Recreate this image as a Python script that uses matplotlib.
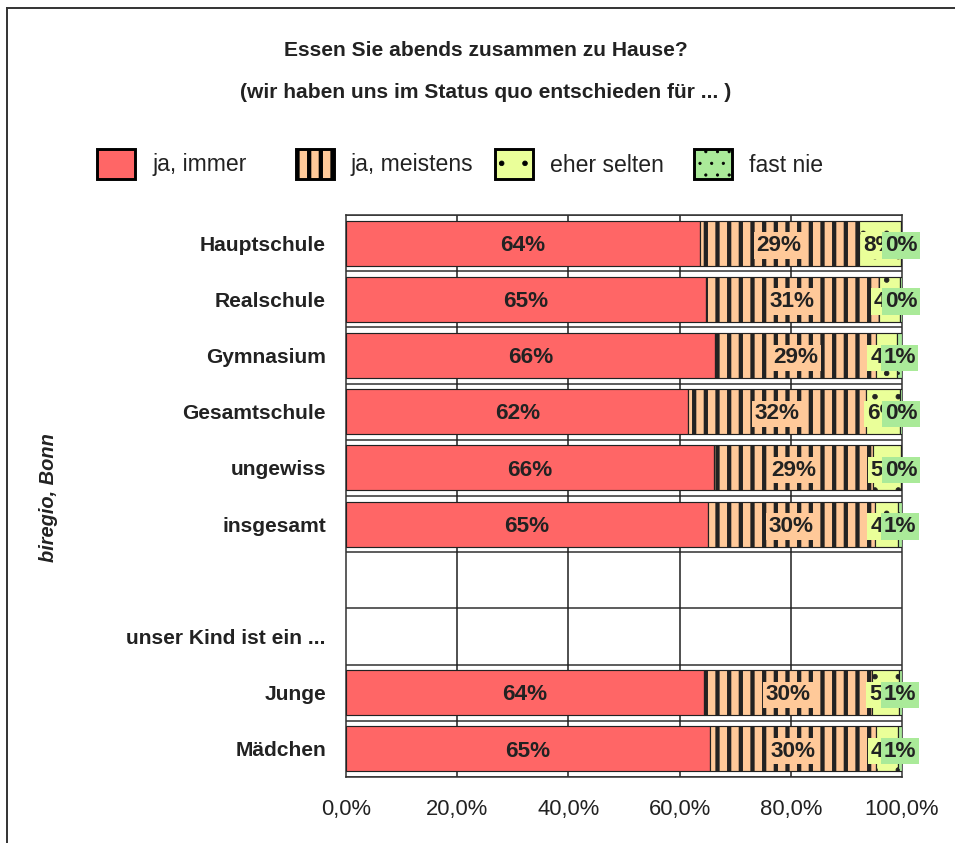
import numpy as np
import matplotlib
matplotlib.use("Agg")
import matplotlib.pyplot as plt
from matplotlib.patches import Rectangle
from matplotlib.lines import Line2D

# ---------------- data ----------------
categories = ["Hauptschule", "Realschule", "Gymnasium", "Gesamtschule", "ungewiss",
              "insgesamt", "", "unser Kind ist ein ...", "Junge", "Mädchen"]
series_names = ["ja, immer", "ja, meistens", "eher selten", "fast nie"]
ja_immer    = [63.6, 64.7, 66.4, 61.6, 66.2, 65.1, None, None, 64.4, 65.4]
ja_meistens = [28.6, 31.2, 28.9, 32.0, 28.6, 30.0, None, None, 30.2, 29.9]
eher_selten = [7.6, 3.7, 3.8, 6.0, 5.0, 4.2, None, None, 4.8, 4.0]
fast_nie    = [0.2, 0.4, 0.9, 0.4, 0.2, 0.7, None, None, 0.6, 0.7]
x_ticks = [0, 20, 40, 60, 80, 100]
x_ticklabels = ["0,0%", "20,0%", "40,0%", "60,0%", "80,0%", "100,0%"]
title1 = "Essen Sie abends zusammen zu Hause?"
title2 = "(wir haben uns im Status quo entschieden für ... )"
side_label = "biregio, Bonn"

# ---------------- style ----------------
colors = ["#FF6666", "#FFC999", "#EAFF99", "#AAEA99"]
hatches = [None, "||", ".", ".."]
hatch_lw = [1.0, 2.2, 0.4, 0.4]
DPI = 140
W, H = 955, 843
PT = 72.0 / DPI  # px -> pt
plt.rcParams["font.family"] = ["Liberation Sans", "DejaVu Sans"]
plt.rcParams["hatch.color"] = "black"
TXT = "#222222"

fig = plt.figure(figsize=(W / DPI, H / DPI), dpi=DPI)
fx = lambda px: px / W
fy = lambda py: 1 - py / H


def set_hlw(patch, lw):
    if hasattr(patch, "set_hatch_linewidth"):
        patch.set_hatch_linewidth(lw)


ax = fig.add_axes([fx(346), fy(777), fx(902) - fx(346), fy(215) - fy(777)])

series = [ja_immer, ja_meistens, eher_selten, fast_nie]
n = len(categories)
ypos = np.arange(n)
valid = [i for i in range(n) if ja_immer[i] is not None]

left = np.zeros(n)
bars_all = []
for s, vals in enumerate(series):
    w = np.array([vals[i] for i in valid], dtype=float)
    y = ypos[valid]
    l = left[valid]
    with plt.rc_context({"hatch.linewidth": hatch_lw[s]}):
        bc = ax.barh(y, w, left=l, height=0.8, color=colors[s], hatch=hatches[s],
                     edgecolor="#222222", linewidth=0.6, zorder=3)
    for p in bc:
        set_hlw(p, hatch_lw[s])
    bars_all.append((y, l, w))
    left[valid] = l + w

# labels
for s, (y, l, w) in enumerate(bars_all):
    for yi, li, wi in zip(y, l, w):
        ax.text(li + wi / 2, yi + 0.04, f"{wi:.0f}%", ha="center", va="center",
                fontsize=22.5 * PT, fontweight="bold", color=TXT, zorder=5 + s,
                clip_on=False,
                bbox=dict(boxstyle="square,pad=0.12", fc=colors[s], ec="none"))

ax.set_xlim(0, 100)
ax.set_ylim(n - 0.5, -0.5)
# gridlines
for b in np.arange(-0.5, n, 1.0):
    ax.axhline(b, color="#333333", lw=0.8, zorder=1)
for xv in x_ticks[1:-1]:
    ax.axvline(xv, color="#222222", lw=0.8, zorder=1)
for sp in ax.spines.values():
    sp.set_color("#333333")
    sp.set_linewidth(0.8)

ax.set_xticks(x_ticks)
ax.set_xticklabels(x_ticklabels, fontsize=22 * PT, color=TXT)
ax.set_yticks(ypos)
ax.set_yticklabels(categories, fontsize=21 * PT, fontweight="bold", color=TXT)
ax.tick_params(axis="both", length=0)
ax.tick_params(axis="x", pad=22 * PT)
ax.tick_params(axis="y", pad=20 * PT)

# titles
fig.text(fx(486), fy(51), title1, ha="center", va="center", fontsize=21 * PT,
         fontweight="bold", color=TXT)
fig.text(fx(486), fy(92), title2, ha="center", va="center", fontsize=21 * PT,
         fontweight="bold", color=TXT)
fig.text(fx(48), fy(498), side_label, ha="center", va="center", rotation=90,
         fontsize=20 * PT, fontweight="bold", fontstyle="italic", color=TXT)

# legend (manual)
leg_x = [97, 296, 495, 694]
for s in range(4):
    with plt.rc_context({"hatch.linewidth": hatch_lw[s]}):
        r = Rectangle((fx(leg_x[s]), fy(179)), fx(38), 30 / H, transform=fig.transFigure,
                      fc=colors[s], hatch=hatches[s], ec="black", lw=1.5)
    set_hlw(r, hatch_lw[s])
    fig.add_artist(r)
    fig.text(fx(leg_x[s] + 55), fy(165), series_names[s], ha="left", va="center",
             fontsize=23 * PT, color=TXT)

# outer frame
fig.add_artist(Line2D([fx(7), 1.0], [fy(8), fy(8)], transform=fig.transFigure,
                      color="#333333", lw=1.0))
fig.add_artist(Line2D([fx(7), fx(7)], [fy(8), 0.0], transform=fig.transFigure,
                      color="#333333", lw=1.0))

fig.savefig("out.png", dpi=DPI)
